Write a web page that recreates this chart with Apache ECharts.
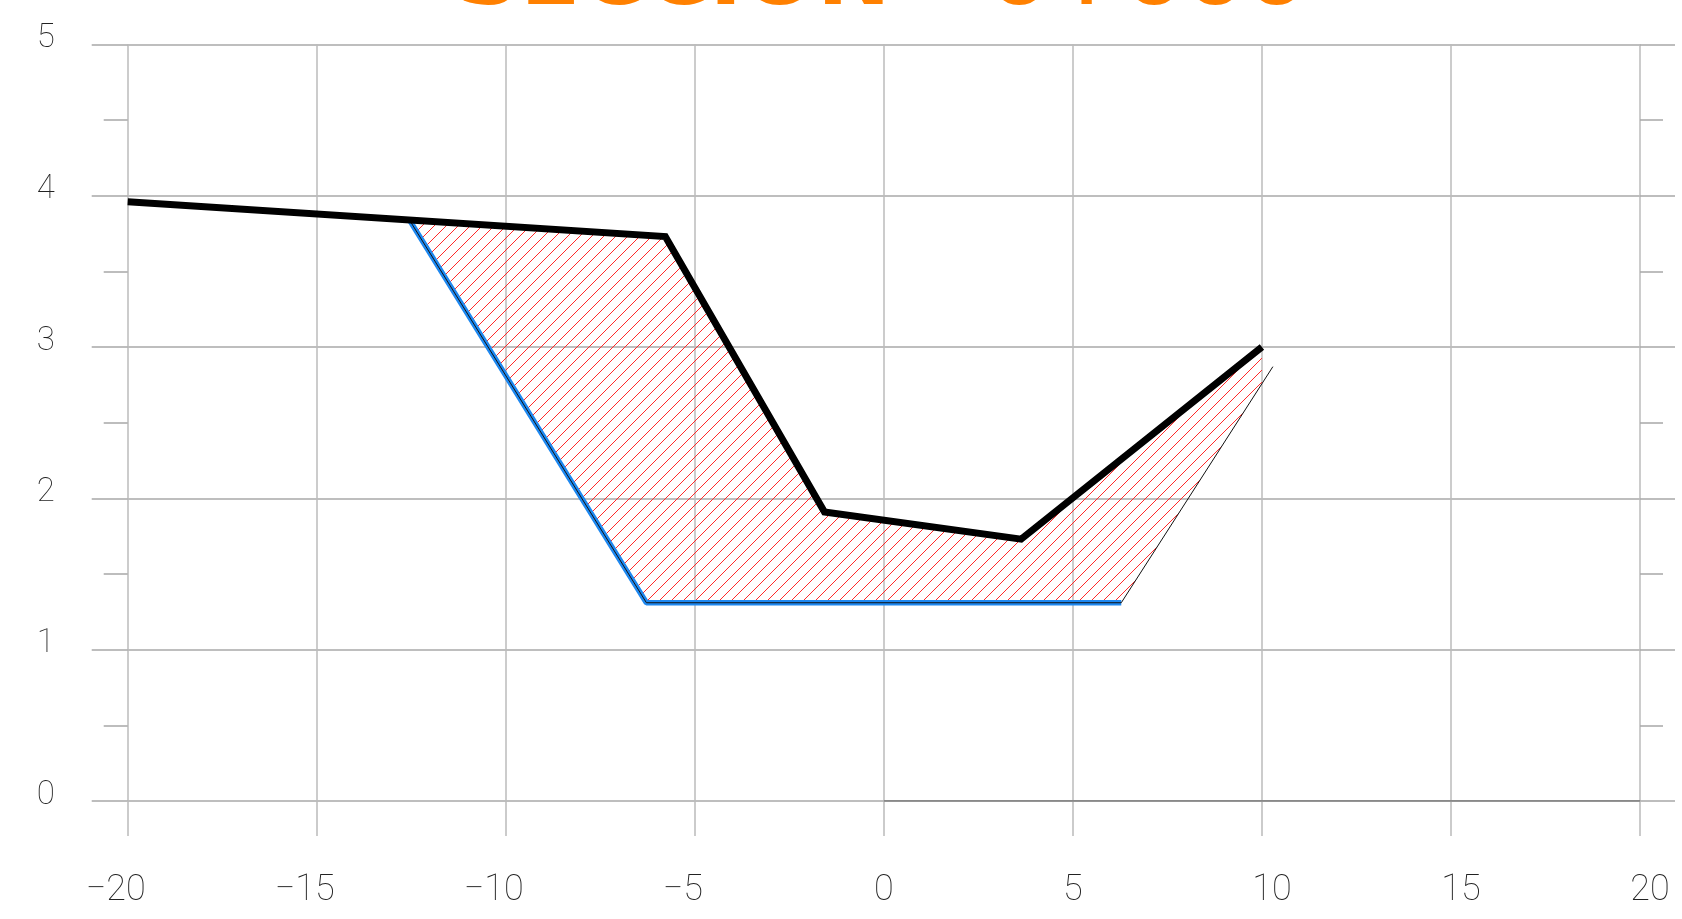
<!DOCTYPE html>
<html lang="es">
<head>
    <meta http-equiv="content-type" content="text/html; charset=utf-8" />
    <script type="text/javascript" src="https://cdn.jsdelivr.net/npm/echarts@6/dist/echarts.min.js"></script>
    <title>Seccion</title>
    <style>
        html, body { margin: 0; padding: 0; background: #fff; }
        #chart { width: 1682px; height: 919px; }
    </style>
</head>
<body>
<div id="chart"></div>
<script type="text/javascript">
    // titulo
    var titleText = 'SECCION - 0+000';

    // ejes
    var xTicks = [-20, -15, -10, -5, 0, 5, 10, 15, 20];
    var yTicks = [0, 1, 2, 3, 4, 5];

    // terreno natural
    var terrainX = [-20, -5.78, -1.57, 3.63, 10.0];
    var terrainY = [3.96, 3.73, 1.91, 1.73, 3.00];

    // seccion de diseno
    var designX = [-12.55, -6.28, 6.28];
    var designY = [3.84, 1.31, 1.31];

    // contorno fino
    var outlineX = [-12.55, -6.28, 6.28, 10.29];
    var outlineY = [3.84, 1.31, 1.31, 2.87];

    // linea base
    var baseX = [0, 20];
    var baseY = [0, 0];

    // area de corte (rayado)
    var cutX = [-12.55, -5.78, -1.57, 3.63, 10.0, 10.0, 6.28, -6.28];
    var cutY = [3.84, 3.73, 1.91, 1.73, 3.00, 2.76, 1.31, 1.31];

    function pairs(xs, ys) {
        var out = [];
        for (var i = 0; i < xs.length; i++) {
            out.push([xs[i], ys[i]]);
        }
        return out;
    }

    // patron de rayas diagonales
    function hatch(size, color) {
        var c = document.createElement('canvas');
        c.width = size;
        c.height = size;
        var ctx = c.getContext('2d');
        ctx.strokeStyle = color;
        ctx.lineWidth = 1;
        ctx.beginPath();
        ctx.moveTo(0, size);
        ctx.lineTo(size, 0);
        ctx.moveTo(-1, 1);
        ctx.lineTo(1, -1);
        ctx.moveTo(size - 1, size + 1);
        ctx.lineTo(size + 1, size - 1);
        ctx.stroke();
        return c;
    }

    var fontFam = 'Roboto';
    var chart = echarts.init(document.getElementById('chart'));

    var option = {
        animation: false,
        backgroundColor: '#ffffff',
        graphic: [{
            type: 'text',
            x: 882,
            y: 13 - 0.36 * 88,
            style: {
                text: titleText,
                fill: '#ff8000',
                font: 'bold 88px "DejaVu Sans", sans-serif',
                align: 'center',
                verticalAlign: 'middle'
            },
            z: 100
        }],
        grid: { left: 127.7, right: 42, top: 44.3, bottom: 118 },
        xAxis: {
            type: 'value',
            min: -20,
            max: 20,
            interval: 5,
            axisLine: { show: false, onZero: false },
            axisTick: { show: true, length: 35, lineStyle: { color: '#bbbbbb', width: 1.5 } },
            splitLine: { show: true, lineStyle: { color: '#bbbbbb', width: 1.5 } },
            axisLabel: {
                margin: 72,
                formatter: function (v) {
                    if (v < 0) return '{n|\u2212' + Math.abs(v) + '}';
                    if (v >= 10) return '{w|' + v + '}';
                    return '{s|' + v + '}';
                },
                rich: {
                    n: { fontFamily: fontFam, fontWeight: 100, fontSize: 36, color: '#222', padding: [0, 24, 0, 0] },
                    w: { fontFamily: fontFam, fontWeight: 100, fontSize: 36, color: '#222', padding: [0, 0, 0, 20] },
                    s: { fontFamily: fontFam, fontWeight: 100, fontSize: 36, color: '#222' }
                }
            }
        },
        yAxis: [{
            type: 'value',
            position: 'left',
            min: 0,
            max: 5,
            interval: 1,
            axisLine: { show: false, onZero: false },
            axisTick: { show: true, length: 36, lineStyle: { color: '#a8a8a8', width: 1.5 } },
            minorTick: { show: true, splitNumber: 2, length: 24, lineStyle: { color: '#a8a8a8', width: 1.5 } },
            splitLine: { show: true, lineStyle: { color: '#a8a8a8', width: 1.5 } },
            axisLabel: {
                margin: 73,
                fontFamily: fontFam,
                fontWeight: 100,
                fontSize: 33,
                color: '#222',
                verticalAlign: 'bottom',
                lineHeight: 11
            }
        }, {
            type: 'value',
            position: 'right',
            min: 0,
            max: 5,
            interval: 1,
            axisLine: { show: false, onZero: false },
            axisTick: { show: true, length: 35, lineStyle: { color: '#a8a8a8', width: 1.5 } },
            minorTick: { show: true, splitNumber: 2, length: 23, lineStyle: { color: '#a8a8a8', width: 1.5 } },
            splitLine: { show: false },
            axisLabel: { show: false }
        }],
        series: [{
            type: 'custom',
            name: 'corte',
            z: 1,
            silent: true,
            data: [0],
            renderItem: function (params, api) {
                var pts = [];
                for (var i = 0; i < cutX.length; i++) {
                    pts.push(api.coord([cutX[i], cutY[i]]));
                }
                return {
                    type: 'polygon',
                    shape: { points: pts },
                    style: {
                        fill: { image: hatch(12, '#ff2a2a'), repeat: 'repeat' },
                        stroke: null
                    }
                };
            }
        }, {
            type: 'line',
            name: 'base',
            z: 2,
            data: pairs(baseX, baseY),
            symbol: 'none',
            lineStyle: { color: '#777777', width: 1.5 }
        }, {
            type: 'line',
            name: 'diseno',
            z: 3,
            data: pairs(designX, designY),
            symbol: 'none',
            lineStyle: { color: '#1e88f0', width: 5.5 }
        }, {
            type: 'line',
            name: 'contorno',
            z: 4,
            data: pairs(outlineX, outlineY),
            symbol: 'none',
            lineStyle: { color: '#111111', width: 1 }
        }, {
            type: 'line',
            name: 'terreno',
            z: 5,
            data: pairs(terrainX, terrainY),
            symbol: 'none',
            lineStyle: { color: '#000000', width: 7, cap: 'butt', join: 'miter' }
        }]
    };
    chart.setOption(option);
</script>
</body>
</html>
